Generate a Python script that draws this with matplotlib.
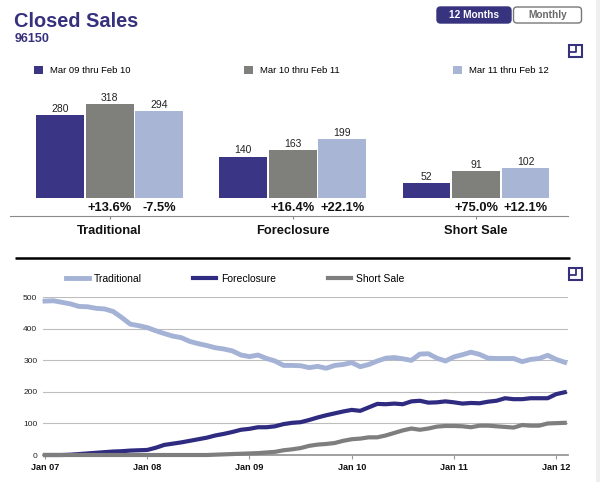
import matplotlib
matplotlib.use("Agg")
import matplotlib.pyplot as plt
from matplotlib.patches import Rectangle, FancyBboxPatch
import numpy as np

plt.rcParams['font.family'] = ['Liberation Sans', 'DejaVu Sans']

# bar chart data
categories = ['Traditional', 'Foreclosure', 'Short Sale']
periods = ['Mar 09 thru Feb 10', 'Mar 10 thru Feb 11', 'Mar 11 thru Feb 12']
totals_p1 = [280, 140, 52]
totals_p2 = [318, 163, 91]
totals_p3 = [294, 199, 102]
change_p2 = ['+13.6%', '+16.4%', '+75.0%']
change_p3 = ['-7.5%', '+22.1%', '+12.1%']

# rolling 12 month totals, Jan 07 .. Feb 12
year_labels = ['Jan 07', 'Jan 08', 'Jan 09', 'Jan 10', 'Jan 11', 'Jan 12']
traditional = [488, 489, 484, 479, 471, 470, 465, 463, 455, 436, 415, 410,
               404, 394, 385, 377, 372, 360, 353, 347, 340, 336, 330, 317,
               312, 317, 306, 298, 284, 284, 283, 277, 281, 275, 284, 287,
               293, 280, 287, 298, 307, 309, 305, 300, 320, 321, 307, 298,
               311, 318, 326, 319, 307, 306, 306, 306, 296, 303, 306, 316,
               303, 294]
foreclosure = [0, 0, 0, 1, 3, 5, 7, 9, 11, 12, 14, 15,
               16, 23, 32, 36, 40, 45, 50, 55, 62, 67, 73, 80,
               83, 88, 88, 91, 98, 102, 104, 111, 119, 126, 132, 138,
               143, 140, 151, 162, 161, 163, 161, 170, 172, 166, 167, 170,
               167, 163, 165, 164, 169, 172, 180, 177, 177, 180, 180, 180,
               193, 199]
short_sale = [0, 0, 0, 0, 0, 0, 0, 0, 0, 0, 0, 0,
              0, 0, 0, 0, 0, 0, 0, 0, 1, 2, 3, 4,
              5, 6, 8, 10, 15, 18, 22, 29, 33, 35, 38, 45,
              50, 52, 56, 56, 62, 70, 78, 84, 80, 84, 90, 92,
              92, 91, 88, 93, 93, 91, 89, 87, 95, 93, 93, 100,
              101, 102]

NAVY = '#36317d'
bar_colors = ['#3a3584', '#7f7f7c', '#a8b5d5']
line_colors = ['#a4b2d6', '#2f2b80', '#7e7e7e']

W, H = 600, 482
fig = plt.figure(figsize=(6, 4.82), dpi=100)


def px_rect(x0, y0, x1, y1):
    # pixel box (top-left origin) -> figure fraction
    return [x0 / W, 1 - y1 / H, (x1 - x0) / W, (y1 - y0) / H]


# decorations layer in pixel coordinates
ax0 = fig.add_axes([0, 0, 1, 1])
ax0.set_xlim(0, W)
ax0.set_ylim(H, 0)
ax0.axis('off')
ax0.patch.set_alpha(0)

ax0.add_patch(Rectangle((596, 0), 4, H, color='#efefef', lw=0))
ax0.text(14, 27, 'Closed Sales', fontsize=14.4, fontweight='bold', color=NAVY, va='baseline')
ax0.text(15, 41.7, '96150', fontsize=9, fontweight='bold', color=NAVY, va='baseline')

ax0.add_patch(FancyBboxPatch((437, 7), 74, 16, boxstyle='round,pad=0,rounding_size=3.5',
                             fc='#38337f', ec='#38337f', lw=1))
ax0.text(474, 15.3, '12 Months', fontsize=7.3, fontweight='bold', color='white', ha='center', va='center')
ax0.add_patch(FancyBboxPatch((513.5, 7), 68, 16, boxstyle='round,pad=0,rounding_size=3.5',
                             fc='white', ec='#777777', lw=1))
ax0.text(547.5, 15.3, 'Monthly', fontsize=7.3, fontweight='bold', color='#6a6a6a', ha='center', va='center')

for top in (45, 267.5):
    ax0.add_patch(Rectangle((568.5, top), 13, 12, fill=False, ec=NAVY, lw=1.5))
    ax0.plot([576, 576, 568.5], [top, top + 7, top + 7], color=NAVY, lw=1.3)

ax0.plot([15, 570], [257.7, 257.7], color='black', lw=1.8, solid_capstyle='butt')

# bar chart
ax1 = fig.add_axes(px_rect(10, 60, 568, 198.3))
group_x = np.arange(len(categories))
all_totals = [totals_p1, totals_p2, totals_p3]
bar_sets = []
for i, vals in enumerate(all_totals):
    b = ax1.bar(group_x + (i - 1) * 0.27, vals, width=0.261, color=bar_colors[i],
                label=periods[i], zorder=2)
    ax1.bar_label(b, padding=1, fontsize=7.5, color='#222222')
    bar_sets.append(b)

for i, labels in ((1, change_p2), (2, change_p3)):
    for x, lab in zip(group_x + (i - 1) * 0.27, labels):
        ax1.annotate(lab, (x, 0), xytext=(0, -7.0), textcoords='offset points',
                     ha='center', va='center', fontsize=9.3, fontweight='bold', color='#111111')

ax1.set_xlim(-0.544, 2.502)
ax1.set_ylim(0, 467)
ax1.patch.set_alpha(0)
for s in ('top', 'left', 'right'):
    ax1.spines[s].set_visible(False)
ax1.spines['bottom'].set_position(('outward', 12.7))
ax1.spines['bottom'].set_color('#8a8a8a')
ax1.set_yticks([])
ax1.set_xticks(group_x)
ax1.set_xticklabels(categories, fontsize=9.3, fontweight='bold', color='#111111')
ax1.tick_params(axis='x', length=2, color='#8a8a8a', pad=4.5)

fig.legend(handles=bar_sets, labels=periods, loc='center left',
           bbox_to_anchor=(34.4 / W, 1 - 70.5 / H), ncol=3, frameon=False,
           fontsize=6.8, handlelength=0.96, handleheight=0.96, handletextpad=0.72,
           columnspacing=12.0, borderpad=0, borderaxespad=0)

# line chart
ax2 = fig.add_axes(px_rect(43.3, 297.3, 567.7, 455))
months = np.arange(len(traditional))
series = [('Traditional', traditional, 3.5), ('Foreclosure', foreclosure, 3.0),
          ('Short Sale', short_sale, 3.0)]
lines = []
for (name, vals, lw), c in zip(series, line_colors):
    ln, = ax2.plot(months, vals, color=c, lw=lw, label=name, clip_on=False,
                   solid_joinstyle='round', zorder=3)
    lines.append(ln)

ax2.set_xlim(-0.2, 61.35)
ax2.set_ylim(0, 500)
ax2.set_yticks(range(0, 501, 100))
ax2.grid(axis='y', color='#bdbdbd', lw=0.8)
ax2.set_axisbelow(True)
for s in ('top', 'left', 'right'):
    ax2.spines[s].set_visible(False)
ax2.spines['bottom'].set_color('#999999')
ax2.spines['bottom'].set_linewidth(1.3)
ax2.tick_params(axis='y', length=0, labelsize=6, pad=4.3, labelcolor='#222222')
ax2.set_xticks(months[::12])
ax2.set_xticklabels(year_labels, fontsize=6.6, fontweight='bold', color='#111111')
ax2.tick_params(axis='x', length=3, color='#999999', pad=3)

fig.legend(handles=lines, loc='center left', bbox_to_anchor=(65.8 / W, 1 - 278.7 / H),
           ncol=3, frameon=False, fontsize=7.5, handlelength=2.2, handletextpad=0.45,
           columnspacing=5.0, borderpad=0, borderaxespad=0)

fig.savefig('out.png', dpi=100)
